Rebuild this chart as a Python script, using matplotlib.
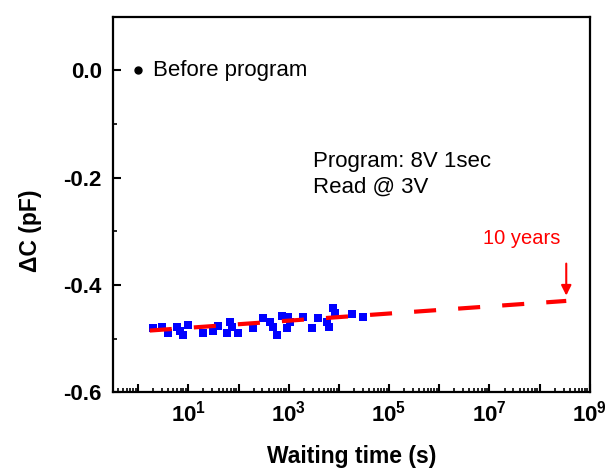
import numpy as np
import matplotlib
matplotlib.use('Agg')
import matplotlib.pyplot as plt
from matplotlib.ticker import LogLocator, FuncFormatter, MultipleLocator, NullFormatter

plt.rcParams['font.family'] = ['Liberation Sans', 'DejaVu Sans']
plt.rcParams['mathtext.fontset'] = 'custom'
plt.rcParams['mathtext.bf'] = 'Liberation Sans:bold'
plt.rcParams['mathtext.rm'] = 'Liberation Sans'

# measured retention data (waiting time in s, delta C in pF)
t_meas = [2.0, 3.0, 3.9, 5.9, 6.8, 7.8, 9.8, 19.5, 31, 39, 59, 68, 74, 98,
          193, 305, 420, 480, 575, 720, 910, 960, 1050, 1900, 2880, 3800,
          5700, 6500, 7500, 8200, 18600, 29600]
dc_meas = [-0.480, -0.478, -0.489, -0.478, -0.485, -0.493, -0.474, -0.489,
           -0.485, -0.476, -0.489, -0.470, -0.478, -0.489, -0.481, -0.461,
           -0.470, -0.478, -0.493, -0.457, -0.481, -0.459, -0.470, -0.459,
           -0.481, -0.461, -0.470, -0.478, -0.443, -0.452, -0.454, -0.459]

# point before programming
t_before = [1.0]
dc_before = [0.0]

# extrapolation fit: dC = intercept + slope * log10(t)
fit_intercept = -0.4866
fit_slope = 0.00666
fit_t_start = 1.7
ten_years = 3.4e8

fig = plt.figure(figsize=(6.08, 4.68), dpi=100)
ax = fig.add_axes([0.186, 0.162, 0.784, 0.802])

t_fit = np.logspace(np.log10(fit_t_start), np.log10(ten_years), 200)
dc_fit = fit_intercept + fit_slope * np.log10(t_fit)

ax.plot(t_meas, dc_meas, 's', color='#0000FF', markersize=5.6, markeredgewidth=0, zorder=3)
ax.plot(t_fit, dc_fit, color='#FF0000', lw=3, dashes=(5.3, 5.3), zorder=4)
ax.plot(t_before, dc_before, 'o', color='black', markersize=5, zorder=3)

ax.set_xscale('log')
ax.set_xlim(10 ** -0.5, 1e9)
ax.set_ylim(-0.6, 0.1)

ax.xaxis.set_major_locator(LogLocator(base=10, numticks=20))
ax.xaxis.set_minor_locator(LogLocator(base=10, subs=np.arange(2, 10), numticks=20))
ax.xaxis.set_major_formatter(FuncFormatter(
    lambda v, p: r'$\mathbf{10^{%d}}$' % round(np.log10(v)) if round(np.log10(v)) % 2 == 1 else ''))
ax.xaxis.set_minor_formatter(NullFormatter())
ax.yaxis.set_major_locator(MultipleLocator(0.2))
ax.yaxis.set_minor_locator(MultipleLocator(0.1))
ax.yaxis.set_major_formatter(FuncFormatter(lambda v, p: '%.1f' % v))

ax.tick_params(which='major', direction='in', length=6, width=1.5, labelsize=16, pad=8)
ax.tick_params(axis='x', which='major', pad=6)
ax.tick_params(which='minor', direction='in', length=3, width=1.2)
ax.tick_params(top=False, right=False, which='both')
for lbl in ax.get_yticklabels():
    lbl.set_fontweight('bold')
for s in ax.spines.values():
    s.set_linewidth(1.6)

ax.set_xlabel('Waiting time (s)', fontsize=16.5, fontweight='bold')
ax.set_ylabel('ΔC (pF)', fontsize=16.5, fontweight='bold')
ax.xaxis.set_label_coords(0.5, -0.142)
ax.yaxis.set_label_coords(-0.149, 0.43)

ax.text(1.97, 0.0, 'Before program', fontsize=16, va='center', ha='left')
ax.text(3000, -0.194, 'Program: 8V 1sec\nRead @ 3V', fontsize=16, va='center', ha='left',
        linespacing=1.27)
ax.text(4.3e7, -0.313, '10 years', fontsize=14.5, color='#FF0000', ha='center', va='center')
ax.annotate('', xy=(ten_years, -0.425), xytext=(ten_years, -0.355),
            arrowprops=dict(arrowstyle='-|>', color='#FF0000', lw=1.5, mutation_scale=15))

fig.savefig('out.png', dpi=100)
